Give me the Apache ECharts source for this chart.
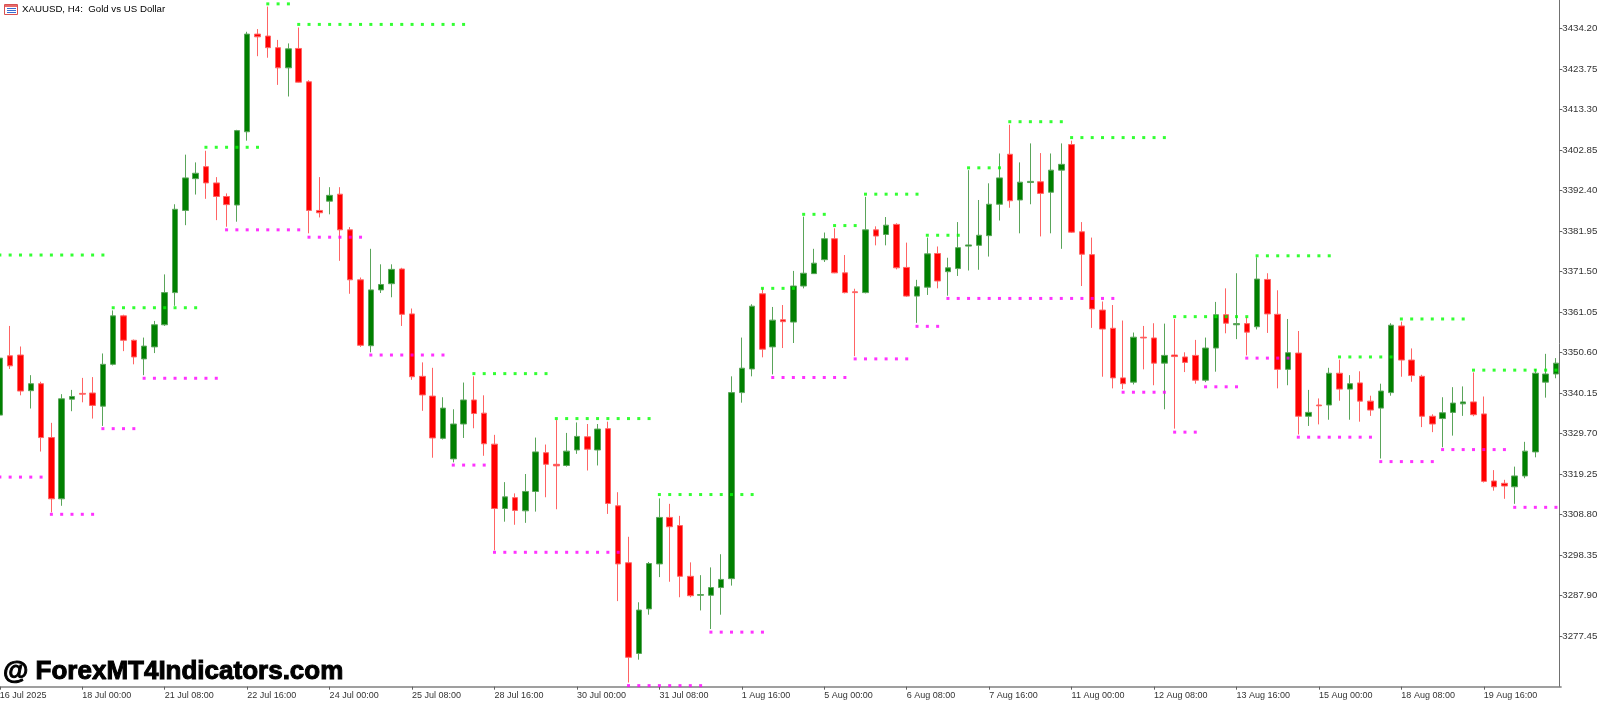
<!DOCTYPE html>
<html>
<head>
<meta charset="utf-8">
<script src="https://cdn.jsdelivr.net/npm/echarts@6/dist/echarts.min.js"></script>
<style>html,body{margin:0;padding:0;background:#fff}#c{width:1600px;height:702px}</style>
</head>
<body>
<div id="c"></div>
<script>
// X-axis tick labels (one every 8 H4 bars, starting at bar 0)
const xTickLabels = ['16 Jul 2025','18 Jul 00:00','21 Jul 08:00','22 Jul 16:00','24 Jul 00:00','25 Jul 08:00','28 Jul 16:00','30 Jul 00:00','31 Jul 08:00','1 Aug 16:00','5 Aug 00:00','6 Aug 08:00','7 Aug 16:00','11 Aug 00:00','12 Aug 08:00','13 Aug 16:00','15 Aug 00:00','18 Aug 08:00','19 Aug 16:00'];
// Price tick labels
const yTicks = [3434.20,3423.75,3413.30,3402.85,3392.40,3381.95,3371.50,3361.05,3350.60,3340.15,3329.70,3319.25,3308.80,3298.35,3287.90,3277.45];

const opens = [3334.5,3349.8,3350.0,3340.8,3342.6,3328.7,3312.9,3338.6,3340.1,3340.2,
3336.8,3347.6,3360.1,3353.8,3349.0,3352.1,3357.8,3366.1,3387.3,3395.5,
3398.6,3394.4,3390.9,3388.7,3407.6,3432.8,3432.3,3429.3,3424.1,3429.1,
3420.5,3387.3,3389.7,3391.5,3382.3,3369.4,3352.4,3366.8,3368.4,3372.2,
3360.6,3344.5,3339.4,3328.5,3323.2,3332.2,3338.4,3335.0,3327.0,3310.4,
3313.2,3309.8,3314.8,3324.8,3321.8,3321.5,3325.5,3328.9,3325.5,3331.0,
3311.1,3296.4,3273.0,3284.5,3296.1,3308.1,3306.0,3292.9,3288.0,3288.0,
3290.0,3292.3,3340.3,3346.4,3365.8,3352.1,3359.1,3358.5,3367.8,3371.0,
3374.6,3380.0,3371.2,3366.3,3366.1,3382.3,3381.1,3383.7,3372.6,3365.2,
3367.5,3376.2,3371.5,3372.3,3378.1,3378.3,3380.8,3388.9,3401.8,3390.0,
3394.5,3394.7,3392.0,3397.7,3404.3,3381.8,3375.9,3361.6,3356.9,3344.1,
3343.0,3354.6,3354.4,3347.9,3350.0,3349.5,3349.9,3343.5,3351.8,3360.4,
3357.8,3358.1,3357.3,3369.5,3360.5,3346.3,3350.5,3334.2,3337.1,3337.1,
3345.3,3341.2,3342.8,3338.1,3336.3,3340.3,3357.5,3348.7,3344.5,3334.2,
3333.6,3335.2,3337.4,3337.9,3334.8,3317.5,3316.9,3316.0,3318.8,3325.0,
3343.0,3345.1];

const highs = [3350.1,3357.5,3352.2,3344.8,3343.1,3332.5,3339.9,3341.0,3344.1,3344.3,
3350.4,3361.5,3360.4,3354.0,3354.5,3358.8,3370.8,3388.9,3401.7,3399.7,
3402.7,3395.9,3391.7,3408.1,3433.4,3434.1,3439.9,3431.3,3430.4,3434.5,
3420.9,3395.9,3393.3,3393.3,3383.0,3370.0,3377.4,3373.4,3373.4,3372.5,
3362.0,3348.1,3346.7,3339.1,3336.0,3342.9,3344.5,3339.6,3329.4,3317.2,
3314.3,3319.3,3328.7,3326.9,3333.2,3329.9,3332.6,3332.2,3332.2,3332.8,
3314.6,3303.1,3286.2,3296.6,3313.0,3311.6,3308.5,3296.5,3293.2,3295.2,
3298.6,3344.5,3354.5,3363.1,3367.2,3362.4,3362.9,3371.7,3385.7,3377.4,
3381.6,3382.7,3375.8,3367.1,3390.8,3383.2,3385.6,3384.0,3379.0,3369.4,
3380.3,3378.0,3375.1,3384.3,3397.7,3390.0,3394.3,3402.0,3409.4,3399.7,
3404.6,3402.1,3402.0,3404.6,3405.3,3384.3,3380.3,3363.8,3362.9,3358.9,
3355.8,3357.5,3358.2,3358.1,3359.3,3350.7,3353.9,3354.5,3363.7,3367.2,
3371.1,3359.7,3375.2,3371.1,3366.7,3359.3,3356.2,3341.0,3338.8,3346.7,
3348.8,3344.8,3345.8,3339.5,3342.6,3358.2,3358.6,3351.7,3344.9,3334.7,
3339.1,3341.7,3341.9,3345.5,3339.3,3320.3,3317.8,3321.2,3327.6,3346.4,
3350.3,3349.2];

const lows = [3333.6,3346.4,3339.6,3336.2,3325.1,3309.4,3311.1,3335.5,3337.8,3333.6,
3331.7,3347.3,3351.0,3347.6,3344.8,3350.5,3357.5,3362.7,3383.5,3391.4,
3390.3,3384.8,3383.1,3384.4,3405.3,3427.1,3426.7,3419.7,3416.7,3420.3,
3381.4,3385.5,3386.3,3374.3,3365.8,3352.1,3350.7,3366.0,3364.9,3357.5,
3343.6,3335.6,3323.5,3328.2,3322.3,3328.6,3331.1,3324.0,3299.6,3307.0,
3306.2,3306.7,3309.6,3313.3,3310.2,3321.2,3324.5,3320.2,3321.5,3309.0,
3286.5,3265.5,3271.4,3283.0,3292.7,3291.5,3287.5,3287.5,3284.1,3279.3,
3283.0,3290.5,3337.7,3344.5,3349.4,3345.0,3351.8,3353.1,3367.2,3370.9,
3374.0,3371.1,3365.9,3349.7,3365.9,3378.3,3378.3,3372.1,3365.0,3358.3,
3365.5,3367.2,3365.3,3370.4,3371.8,3372.0,3375.4,3384.7,3388.0,3381.4,
3388.9,3380.6,3381.4,3377.4,3381.5,3367.8,3357.0,3344.4,3341.4,3341.2,
3342.4,3346.3,3342.2,3336.0,3331.0,3345.6,3342.6,3343.0,3345.7,3355.6,
3354.1,3349.9,3356.6,3355.7,3341.4,3342.2,3329.5,3331.7,3332.1,3333.3,
3338.2,3333.3,3332.8,3334.3,3323.3,3339.5,3344.4,3343.1,3331.4,3330.1,
3326.2,3329.2,3334.3,3334.2,3317.1,3315.0,3312.9,3311.6,3318.2,3323.6,
3339.0,3344.0];

const closes = [3349.2,3347.2,3340.7,3342.6,3328.7,3312.9,3338.7,3339.3,3339.9,3337.0,
3347.6,3360.1,3353.8,3349.5,3352.3,3357.8,3366.1,3387.6,3395.7,3396.9,
3394.4,3390.9,3388.8,3407.9,3432.8,3432.1,3429.3,3424.1,3429.0,3420.4,
3387.3,3386.7,3391.2,3382.3,3369.4,3352.5,3366.8,3368.2,3372.1,3360.5,
3344.4,3339.7,3328.6,3336.3,3332.2,3338.4,3334.9,3327.1,3310.4,3313.4,
3309.9,3314.8,3325.0,3321.8,3321.4,3325.2,3329.0,3325.7,3330.9,3311.7,
3296.1,3272.0,3284.2,3296.2,3308.1,3305.7,3292.9,3287.9,3288.2,3290.0,
3292.1,3340.3,3346.6,3362.6,3351.5,3359.0,3358.6,3367.8,3371.1,3373.7,
3380.0,3371.2,3366.1,3366.1,3382.3,3380.7,3383.5,3372.5,3365.2,3367.6,
3376.1,3369.1,3372.5,3377.7,3378.4,3380.9,3388.9,3395.7,3389.8,3394.6,
3394.8,3391.7,3397.7,3399.2,3381.7,3376.0,3361.9,3356.7,3344.1,3342.6,
3354.6,3354.4,3347.9,3349.9,3349.6,3348.1,3343.5,3351.8,3360.4,3358.2,
3358.1,3355.9,3369.6,3360.6,3346.3,3350.6,3334.2,3335.2,3336.9,3345.3,
3341.2,3342.6,3338.1,3335.8,3340.7,3357.7,3348.7,3344.7,3334.2,3332.2,
3335.1,3337.6,3337.9,3334.6,3317.4,3316.0,3316.2,3318.8,3325.2,3345.3,
3345.1,3347.9];

// Fractal levels: [firstBar, lastBar, price]
const resistanceLevels = [[0,10,3375.8],[11,19,3362.2],[20,25,3403.6],[26,28,3440.6],[29,45,3435.3],[46,53,3345.2],[54,63,3333.6],[64,73,3314.0],[74,77,3367.2],[78,80,3386.3],[81,83,3383.4],[84,89,3391.5],[90,93,3380.9],[94,97,3398.3],[98,103,3410.2],[104,113,3406.1],[114,121,3359.9],[122,129,3375.6],[130,135,3349.5],[136,142,3359.3],[143,151,3346.1]];
const supportLevels = [[0,4,3318.5],[5,9,3308.9],[10,13,3331.0],[14,21,3344.0],[22,29,3382.3],[30,35,3380.4],[36,43,3350.0],[44,47,3321.6],[48,60,3299.1],[61,68,3264.7],[69,74,3278.5],[75,82,3344.2],[83,88,3349.0],[89,91,3357.4],[92,108,3364.6],[109,113,3340.4],[114,116,3330.1],[117,120,3341.8],[121,125,3349.2],[126,133,3328.8],[134,139,3322.5],[140,146,3325.6],[147,151,3310.7]];

const categories = opens.map((_, i) => String(i));
const candleData = opens.map((o, i) => [o, closes[i], lows[i], highs[i]]);
function expand(levels) {
  const out = [];
  levels.forEach(([a, b, v]) => { for (let i = a; i <= b; i++) out.push([i, v]); });
  return out;
}

const chart = echarts.init(document.getElementById('c'), null, {renderer: 'canvas'});
const FONT = 'Liberation Sans, Arial, sans-serif';
chart.setOption({
  animation: false,
  backgroundColor: '#ffffff',
  grid: {left: -5.3, right: 38.9, top: 0, bottom: 15.3, outerBoundsMode: 'none', containLabel: false},
  xAxis: {
    type: 'category',
    data: categories,
    boundaryGap: true,
    axisLine: {show: true, lineStyle: {color: '#808080', width: 1.5}},
    axisTick: {show: true, alignWithLabel: true, length: 3, interval: (idx) => idx % 8 === 0, lineStyle: {color: '#606060'}},
    axisLabel: {
      show: true, interval: (idx) => idx % 8 === 0,
      formatter: (v, idx) => xTickLabels[Math.round(idx / 8)] || '',
      align: 'left', margin: 4, color: '#333', fontSize: 9, fontFamily: FONT
    },
    splitLine: {show: false}
  },
  yAxis: {
    type: 'value',
    position: 'right',
    offset: -1.8,
    min: 3264.42,
    max: 3441.60,
    scale: true,
    axisLine: {show: true, lineStyle: {color: '#707070', width: 1}},
    axisTick: {show: true, length: 3, customValues: yTicks, lineStyle: {color: '#606060'}},
    axisLabel: {show: true, customValues: yTicks, formatter: (v) => Number(v).toFixed(2), margin: 3, color: '#333', fontSize: 9.7, fontFamily: FONT},
    splitLine: {show: false}
  },
  series: [
    {
      type: 'candlestick',
      data: candleData,
      barWidth: 6,
      itemStyle: {color: '#008000', color0: '#ff0000', borderColor: '#5aa55a', borderColor0: '#ff6464', borderColorDoji: '#5aa55a', borderWidth: 1},
      z: 2
    },
    {
      type: 'scatter', data: expand(resistanceLevels), symbol: 'rect', symbolSize: 3,
      itemStyle: {color: '#00ff00'}, z: 5, silent: true
    },
    {
      type: 'scatter', data: expand(supportLevels), symbol: 'rect', symbolSize: 3,
      itemStyle: {color: '#ff00ff'}, z: 5, silent: true
    }
  ],
  graphic: [
    {type: 'rect', shape: {x: 4.5, y: 4.5, width: 13, height: 10}, style: {fill: '#ffffff', stroke: '#d85050', lineWidth: 1}},
    {type: 'rect', shape: {x: 5, y: 5, width: 12, height: 2}, style: {fill: '#e86a6a'}},
    {type: 'line', shape: {x1: 7, y1: 8.5, x2: 16, y2: 8.5}, style: {stroke: '#3a6cd0', lineWidth: 1}},
    {type: 'line', shape: {x1: 7, y1: 10.5, x2: 16, y2: 10.5}, style: {stroke: '#3a6cd0', lineWidth: 1}},
    {type: 'line', shape: {x1: 7, y1: 12.5, x2: 16, y2: 12.5}, style: {stroke: '#3a6cd0', lineWidth: 1}},
    {type: 'text', x: 22, y: 9.5, style: {text: 'XAUUSD, H4:  Gold vs US Dollar', fill: '#000', font: '9.7px ' + FONT, verticalAlign: 'middle', align: 'left'}},
    {type: 'text', x: 3, y: 672, z: 10, style: {text: '@ ForexMT4Indicators.com', fill: '#000', stroke: '#000', lineWidth: 1, font: 'bold 26px ' + FONT, verticalAlign: 'middle', align: 'left'}}
  ]
});
</script>
</body>
</html>
